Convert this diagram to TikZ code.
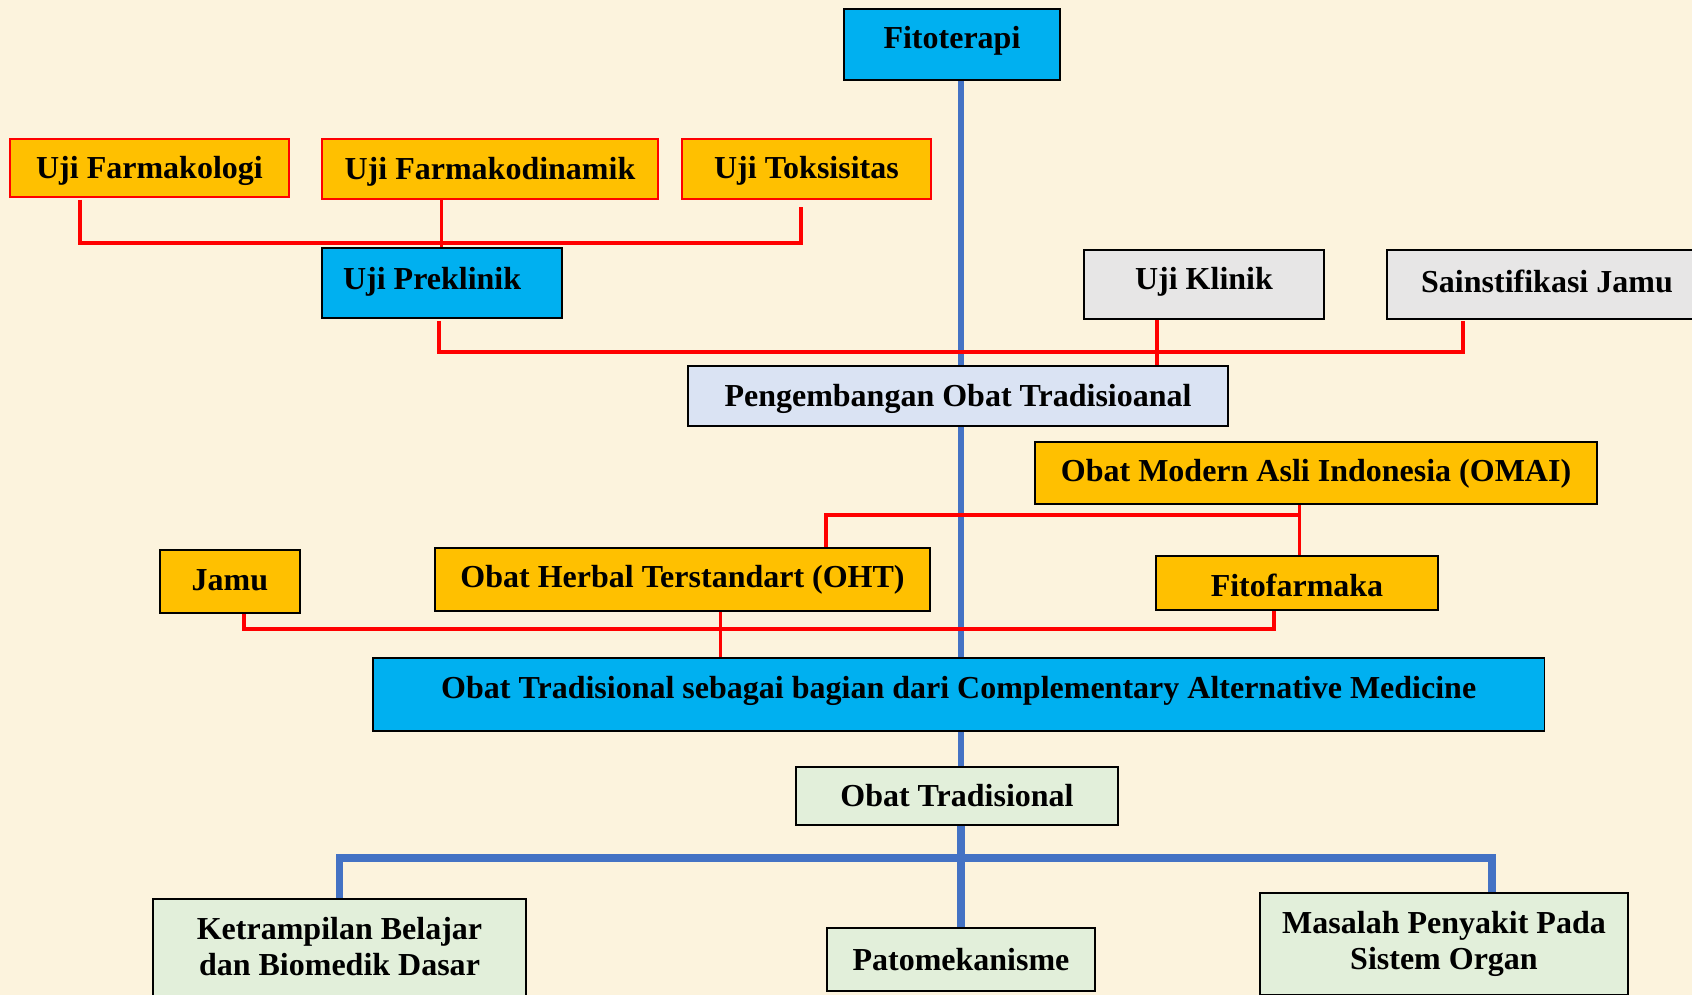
\documentclass[tikz,border=0pt]{standalone}
\usepackage{fontspec}
\setmainfont{Liberation Serif}
\usetikzlibrary{calc,positioning}
\definecolor{bgcream}{RGB}{252,243,221}
\definecolor{cskyblue}{RGB}{0,176,240}
\definecolor{camber}{RGB}{255,192,0}
\definecolor{cgrey}{RGB}{231,230,230}
\definecolor{cpaleblue}{RGB}{218,227,243}
\definecolor{cpalegreen}{RGB}{226,239,218}
\definecolor{linkblue}{RGB}{68,114,196}
\pgfdeclarelayer{background}
\pgfsetlayers{background,main}
\tikzset{
  box/.style={draw=black, line width=0.5pt, anchor=north west, inner sep=0pt, align=center,
    font=\bfseries\fontsize{9.1}{10.3}\selectfont},
  skybox/.style={box, fill=cskyblue},
  goldbox/.style={box, fill=camber},
  goldredbox/.style={box, fill=camber, draw=red},
  greybox/.style={box, fill=cgrey},
  paleblbox/.style={box, fill=cpaleblue},
  palegrbox/.style={box, fill=cpalegreen},
  redlink/.style={draw=red, line width=1.15pt},
  bluelink/.style={draw=linkblue, line width=1.7pt},
  bluebranch/.style={draw=linkblue, line width=2.15pt}
}
\newcommand{\twolines}[2]{\begin{tabular}{@{}c@{}}#1\\#2\end{tabular}}
\newcommand{\lift}[2]{\raisebox{#1}[\height][\depth]{#2}}

\begin{document}
\begin{tikzpicture}[x=0.01cm,y=-0.01cm]
\useasboundingbox (0,0) rectangle (1692,995);

\node[skybox, minimum width=2.16cm, minimum height=0.71cm] (fito) at (843,8) {\lift{0.9pt}{Fitoterapi}};

\node[goldredbox, minimum width=2.79cm, minimum height=0.58cm] (farmakologi) at (9,138) {\lift{-0.9pt}{Uji Farmakologi}};
\node[goldredbox, minimum width=3.36cm, minimum height=0.60cm] (farmakodinamik) at (321,138) {\lift{-0.9pt}{Uji Farmakodinamik}};
\node[goldredbox, minimum width=2.49cm, minimum height=0.60cm] (toksisitas) at (681,138) {\lift{-0.6pt}{Uji Toksisitas}};

\node[skybox, minimum width=2.40cm, minimum height=0.70cm] (preklinik) at (321,247) {\lift{0.3pt}{Uji Preklinik\hspace{5.6pt}}};
\node[greybox, minimum width=2.40cm, minimum height=0.69cm] (ujiklinik) at (1083,249) {\lift{0.6pt}{Uji Klinik}};
\node[greybox, minimum width=3.20cm, minimum height=0.69cm] (sainstifikasi) at (1386,249) {\lift{0.9pt}{Sainstifikasi Jamu}};

\node[paleblbox, minimum width=5.40cm, minimum height=0.60cm] (pengembangan) at (687,365) {\lift{-0.9pt}{Pengembangan Obat Tradisioanal}};

\node[goldbox, minimum width=5.62cm, minimum height=0.62cm] (omai) at (1034,441) {\lift{-0.3pt}{Obat Modern Asli Indonesia (OMAI)}};
\node[goldbox, minimum width=1.40cm, minimum height=0.63cm] (jamu) at (159,549) {\lift{0.3pt}{Jamu}};
\node[goldbox, minimum width=4.95cm, minimum height=0.63cm] (oht) at (434,547) {Obat Herbal Terstandart (OHT)};
\node[goldbox, minimum width=2.82cm, minimum height=0.54cm] (fitofarmaka) at (1155,555) {\lift{-0.6pt}{Fitofarmaka}};

\node[skybox, minimum width=11.71cm, minimum height=0.73cm] (cam) at (372,657)
  {\lift{0.9pt}{Obat Tradisional sebagai bagian dari Complementary Alternative Medicine}};

\node[palegrbox, minimum width=3.22cm, minimum height=0.58cm] (obattrad) at (795,766) {Obat Tradisional};

\node[palegrbox, minimum width=3.73cm, minimum height=1.03cm] (ketrampilan) at (152,898)
  {\raisebox{1.1pt}{\twolines{Ketrampilan Belajar}{dan Biomedik Dasar}}};
\node[palegrbox, minimum width=2.68cm, minimum height=0.63cm] (patomekanisme) at (826,927) {Patomekanisme};
\node[palegrbox, minimum width=3.68cm, minimum height=1.02cm] (masalah) at (1259,892) {Masalah Penyakit Pada\\Sistem Organ};

\begin{pgfonlayer}{background}
\fill[bgcream] (0,0) rectangle (1692,995);

% blue trunk
\coordinate (trunk) at (961,0);
\coordinate (splitlow) at (961,858);
\draw[bluelink] (fito.south -| trunk) -- (cam.north -| trunk);
\draw[bluelink] (cam.south -| trunk) -- (obattrad.north -| trunk);
\draw[bluebranch] (obattrad.south -| trunk) -- (patomekanisme.north -| trunk);
\draw[bluebranch] (ketrampilan.north) |- (splitlow) -| ($(masalah.north)+(48,0)$);

% red brackets
\draw[redlink] ($(farmakologi.south)+(-69,2)$) |- ($(toksisitas.south)+(-5,43)$) -- ($(toksisitas.south)+(-5,7)$);
\draw[redlink, line width=0.85pt] (farmakodinamik.south -| preklinik.north) -- (preklinik.north);

\coordinate (klinikdrop) at ($(ujiklinik.south)+(-47,0)$);
\draw[redlink] ($(preklinik.south)+(-3,2)$) |- ($(sainstifikasi.south)+(-84,32)$) -- ($(sainstifikasi.south)+(-84,1)$);
\draw[redlink] (klinikdrop) -- (klinikdrop |- pengembangan.north);

\coordinate (omaidrop) at ($(fitofarmaka.north)+(3,0)$);
\draw[redlink] ($(oht.north)+(143,0)$) |- ($(omai.south)+(-16,10)$);
\draw[redlink, line width=0.85pt] (omai.south -| omaidrop) -- (omaidrop);

\coordinate (ohtdrop) at ($(oht.south)+(38,0)$);
\draw[redlink] ($(jamu.south)+(14,0)$) |- ($(fitofarmaka.south)+(-23,18)$) -- ($(fitofarmaka.south)+(-23,0)$);
\draw[redlink, line width=0.85pt] (ohtdrop) -- (ohtdrop |- cam.north);
\end{pgfonlayer}

\end{tikzpicture}
\end{document}
